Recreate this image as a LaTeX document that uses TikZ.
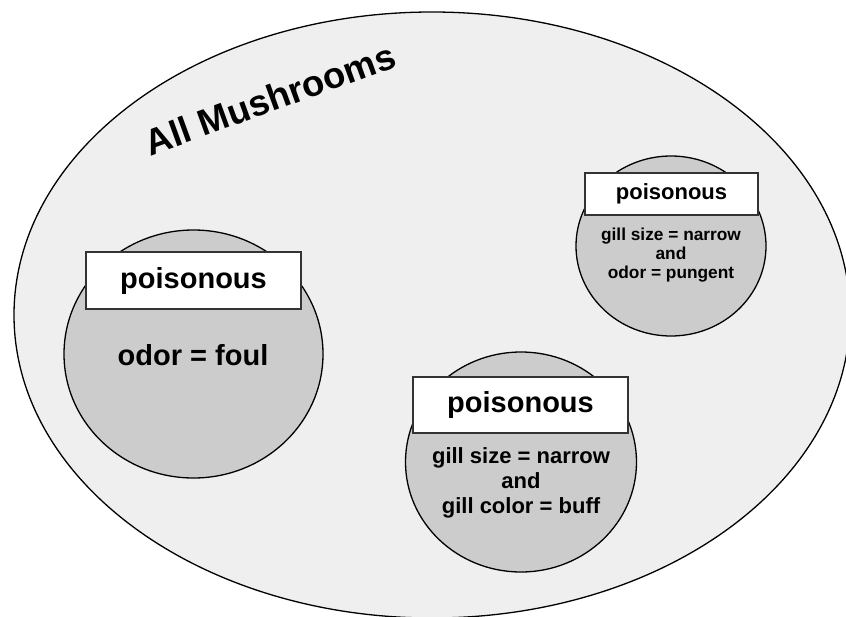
\documentclass[tikz,border=0pt]{standalone}
\usepackage{fontspec}
\setmainfont{Liberation Sans}
\usetikzlibrary{shapes.geometric}
\definecolor{allfill}{HTML}{EFEFEF}
\definecolor{subfill}{HTML}{CCCCCC}

\begin{document}
\begin{tikzpicture}[x=1pt,y=-1pt,line width=1.3pt,
  blob/.style={ellipse,draw=black,fill=subfill,inner sep=0pt},
  tag/.style={rectangle,draw=black!80,fill=white,inner sep=0pt},
  rule/.style={align=center,inner sep=0pt}]
\useasboundingbox (0,0) rectangle (846,616);
% ---------- all mushrooms ----------
\node[ellipse,draw=black,fill=allfill,inner sep=0pt,minimum width=836,minimum height=606] (all) at (432,315) {};
\node[rotate=20,inner sep=0pt,font=\fontsize{36.5}{42}\selectfont\bfseries] (alltitle) at (270,99) {All Mushrooms};
% ---------- odor = foul ----------
\node[blob,minimum width=259,minimum height=248] (foul) at (193.5,354) {};
\node[tag,minimum width=215,minimum height=57,font=\fontsize{29}{34}\selectfont\bfseries] (foultag) at (193.5,280.5) {poisonous};
\node[rule,font=\fontsize{29}{34}\selectfont\bfseries] (foultext) at (193,355) {odor = foul};
% ---------- narrow + pungent ----------
\node[blob,minimum width=190,minimum height=180] (pungent) at (671,246) {};
\node[tag,minimum width=173,minimum height=42,font=\fontsize{22}{26}\selectfont\bfseries] (pungenttag) at (671.5,194) {poisonous};
\node[rule,font=\fontsize{17.3}{19}\selectfont\bfseries] (pungenttext) at (671,255) {gill size = narrow\\and\\odor = pungent};
% ---------- narrow + buff ----------
\node[blob,minimum width=231,minimum height=220] (buff) at (521,462) {};
\node[tag,minimum width=215,minimum height=56,font=\fontsize{29}{34}\selectfont\bfseries] (bufftag) at (520.5,405) {poisonous};
\node[rule,font=\fontsize{22}{25}\selectfont\bfseries] (bufftext) at (521,483) {gill size = narrow\\and\\gill color = buff};
\end{tikzpicture}
\end{document}
